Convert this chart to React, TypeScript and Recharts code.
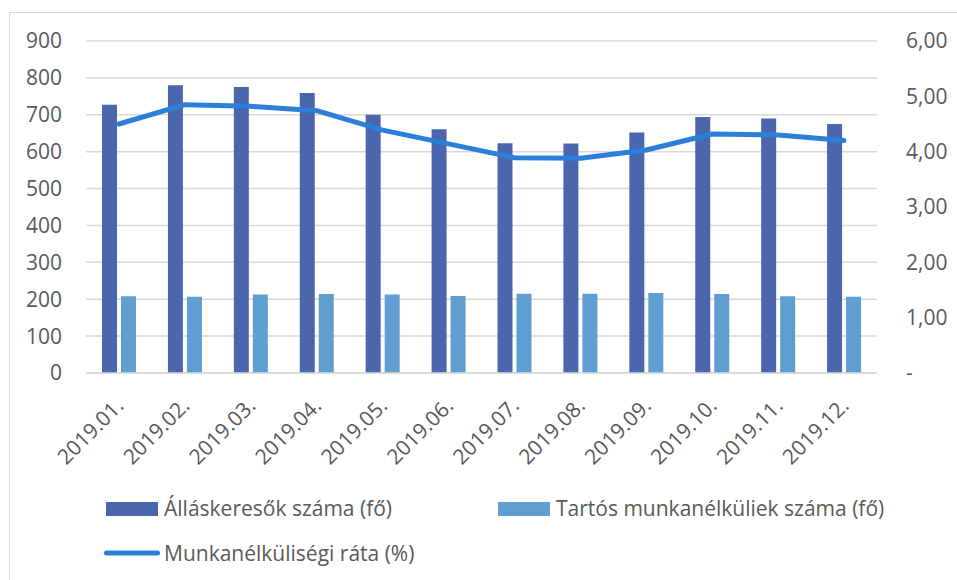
import React from "react";
import {
  ComposedChart,
  Bar,
  Line,
  XAxis,
  YAxis,
  CartesianGrid,
  Legend,
} from "recharts";

const months = [
  "2019.01.", "2019.02.", "2019.03.", "2019.04.", "2019.05.", "2019.06.",
  "2019.07.", "2019.08.", "2019.09.", "2019.10.", "2019.11.", "2019.12.",
];
const jobseekers = [727, 780, 775, 759, 700, 661, 623, 622, 652, 694, 690, 675];
const longTerm = [208, 207, 213, 214, 213, 209, 215, 215, 217, 214, 208, 207];
const rate = [4.5, 4.85, 4.82, 4.74, 4.39, 4.14, 3.89, 3.88, 4.03, 4.32, 4.3, 4.2];

const leftTicks = [0, 100, 200, 300, 400, 500, 600, 700, 800, 900];
const rightTicks = [0, 1, 2, 3, 4, 5, 6];

const NAME_A = "Álláskeresők száma (fő)";
const NAME_B = "Tartós munkanélküliek száma (fő)";
const NAME_C = "Munkanélküliségi ráta (%)";

const DARK = "#4A66AC";
const LIGHT = "#5F9ED1";
const LINEC = "#2B7FD8";
const TXT = "#595959";
const GRID = "#D9D9D9";
const FONT = "'Open Sans', sans-serif";

const data = months.map((m, i) => ({
  month: m,
  a: jobseekers[i],
  b: longTerm[i],
  c: rate[i],
}));

const XTick = (props: any) => {
  const { x, y, payload } = props;
  const ax = x + 6;
  const ay = y + 34;
  return (
    <text
      x={ax}
      y={ay}
      transform={`rotate(-45, ${ax}, ${ay})`}
      textAnchor="end"
      fill={TXT}
      fontSize={21}
      fontFamily={FONT}
    >
      {payload.value}
    </text>
  );
};

const LegendContent = () => (
  <svg width={957} height={580} style={{ position: "absolute", left: 0, top: 0 }}>
    <rect x={106} y={502} width={52} height={14} fill={DARK} />
    <text x={164} y={516} fill={TXT} fontSize={21} fontFamily={FONT}>
      {NAME_A}
    </text>
    <rect x={498} y={502} width={52} height={14} fill={LIGHT} />
    <text x={556} y={516} fill={TXT} fontSize={21} fontFamily={FONT}>
      {NAME_B}
    </text>
    <line x1={106.5} x2={157.5} y1={553} y2={553} stroke={LINEC} strokeWidth={5} strokeLinecap="round" />
    <text x={164} y={561} fill={TXT} fontSize={21} fontFamily={FONT}>
      {NAME_C}
    </text>
  </svg>
);

export default function App() {
  return (
    <div
      style={{
        position: "absolute",
        left: 0,
        top: 0,
        width: 957,
        height: 580,
        background: "#fff",
        overflow: "hidden",
      }}
    >
      <div
        style={{
          position: "absolute",
          left: 9,
          top: 12,
          width: 980,
          height: 620,
          border: `1px solid ${GRID}`,
          boxSizing: "border-box",
        }}
      />
      <div style={{ position: "absolute", left: 0, top: 0 }}>
        <ComposedChart
          width={957}
          height={580}
          data={data}
          margin={{ top: 41, right: 0, bottom: 167, left: 0 }}
          barGap={4}
        >
          <CartesianGrid yAxisId="left" vertical={false} stroke={GRID} strokeWidth={1.5} />
          <XAxis
            dataKey="month"
            height={40}
            tickLine={false}
            tickSize={0}
            tickMargin={0}
            axisLine={{ stroke: GRID, strokeWidth: 1.5 }}
            tick={<XTick />}
            interval={0}
          />
          <YAxis
            yAxisId="left"
            orientation="left"
            width={86}
            domain={[0, 900]}
            ticks={leftTicks}
            tickLine={false}
            tickSize={0}
            tickMargin={24}
            axisLine={false}
            tick={{ fill: TXT, fontSize: 21, fontFamily: FONT }}
            interval={0}
          />
          <YAxis
            yAxisId="right"
            orientation="right"
            width={80}
            domain={[0, 6]}
            ticks={rightTicks}
            tickLine={false}
            tickSize={0}
            tickMargin={29}
            axisLine={false}
            tick={{ fill: TXT, fontSize: 21, fontFamily: FONT, textAnchor: "start" }}
            tickFormatter={(v: number) => (v === 0 ? "-" : v.toFixed(2).replace(".", ","))}
            interval={0}
          />
          <Bar yAxisId="left" dataKey="a" name={NAME_A} fill={DARK} barSize={15} isAnimationActive={false} />
          <Bar yAxisId="left" dataKey="b" name={NAME_B} fill={LIGHT} barSize={15} isAnimationActive={false} />
          <Line
            yAxisId="right"
            dataKey="c"
            name={NAME_C}
            type="linear"
            stroke={LINEC}
            strokeWidth={5}
            strokeLinecap="round"
            strokeLinejoin="round"
            dot={false}
            activeDot={false}
            isAnimationActive={false}
          />
          <Legend
            layout="horizontal"
            verticalAlign="middle"
            align="center"
            content={<LegendContent />}
            wrapperStyle={{ top: 0, left: 0, width: 957, height: 580, pointerEvents: "none" }}
          />
        </ComposedChart>
      </div>
    </div>
  );
}
